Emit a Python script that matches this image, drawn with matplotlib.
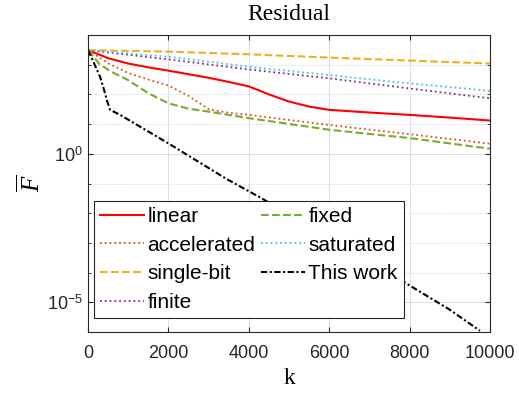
import matplotlib.pyplot as plt
import numpy as np

'''
    DATA (log10 of residual, read off the reference)
'''
k_linear = [0, 500, 1000, 1500, 2000, 3000, 3500, 4000, 4500, 5000, 5500, 6000, 7000, 8000, 9000, 10000]
log_linear = [3.49, 3.22, 3.04, 2.91, 2.80, 2.56, 2.42, 2.27, 2.00, 1.76, 1.59, 1.48, 1.39, 1.31, 1.22, 1.12]

k_accel = [0, 500, 1000, 1500, 2000, 2500, 3000, 3500, 4000, 6000, 8000, 10000]
log_accel = [3.49, 3.05, 2.72, 2.50, 2.30, 1.95, 1.50, 1.38, 1.31, 0.97, 0.66, 0.34]

k_single = [0, 2000, 4000, 6000, 8000, 10000]
log_single = [3.49, 3.44, 3.35, 3.24, 3.14, 3.04]

k_finite = [0, 2000, 4000, 6000, 8000, 10000]
log_finite = [3.49, 3.18, 2.84, 2.54, 2.20, 1.87]

k_fixed = [0, 300, 600, 1000, 1500, 2000, 2500, 3000, 4000, 6000, 8000, 10000]
log_fixed = [3.49, 3.00, 2.75, 2.48, 2.04, 1.70, 1.52, 1.42, 1.20, 0.81, 0.53, 0.17]

k_sat = [0, 2000, 4000, 6000, 8000, 10000]
log_sat = [3.49, 3.27, 2.93, 2.65, 2.37, 2.12]

k_ours = [0, 150, 300, 400, 470, 550, 800, 2000, 3450, 4320, 6000, 7886, 9000, 9750]
log_ours = [3.49, 3.05, 2.59, 2.15, 1.80, 1.48, 1.31, 0.35, -0.85, -1.50, -2.84, -4.34, -5.25, -5.96]

plt.rcParams['font.family'] = ['Liberation Sans', 'DejaVu Sans']
plt.rcParams['mathtext.fontset'] = 'custom'
plt.rcParams['mathtext.rm'] = 'Liberation Sans'
plt.rcParams['mathtext.it'] = 'Liberation Serif:italic'

fig = plt.figure(figsize=(5.19, 3.96), dpi=100)
ax = fig.add_axes([0.1696, 0.1616, 0.7746, 0.75])

series = [
    (k_linear, log_linear, 'linear', dict(color=(1, 0, 0), ls='-', lw=1.5)),
    (k_accel, log_accel, 'accelerated', dict(color=(0.85, 0.325, 0.098), ls=':', lw=1.3)),
    (k_single, log_single, 'single-bit', dict(color=(0.929, 0.694, 0.125), ls='--', lw=1.5)),
    (k_finite, log_finite, 'finite', dict(color=(0.494, 0.184, 0.556), ls=':', lw=1.3)),
    (k_fixed, log_fixed, 'fixed', dict(color=(0.466, 0.674, 0.188), ls='--', lw=1.5)),
    (k_sat, log_sat, 'saturated', dict(color=(0.301, 0.745, 0.933), ls=':', lw=1.3)),
    (k_ours, log_ours, 'This work', dict(color='black', ls=(0, (3, 1.2, 1, 1.2)), lw=1.5)),
]
for k, lg, name, style in series:
    ax.semilogy(k, 10.0 ** np.array(lg), label=name, **style)

ax.set_xlim(0, 10000)
ax.set_ylim(1e-6, 1e4)
ax.set_xticks([0, 2000, 4000, 6000, 8000, 10000])
ax.set_yticks([1e-5, 1e0])
ax.set_yticklabels(['$10^{-5}$', '$10^{0}$'])
ax.set_yticks([10.0 ** e for e in range(-6, 5)], minor=True)
ax.yaxis.set_minor_formatter(plt.NullFormatter())
ax.tick_params(which='both', direction='in', top=True, right=True, labelsize=13, colors='#262626')
ax.tick_params(axis='x', pad=9)
ax.tick_params(which='minor', length=2)
ax.grid(True, which='major', color='#dcdcdc', lw=0.7)
ax.grid(True, which='minor', axis='y', color='#cfcfcf', ls=':', lw=0.7)
for s in ax.spines.values():
    s.set_color('#262626')
    s.set_linewidth(0.8)

ax.set_title('Residual', family='Liberation Serif', fontsize=17, pad=11)
ax.set_xlabel('k', family='Liberation Serif', fontsize=17, labelpad=5)
ax.set_ylabel(r'$\overline{F}$', fontsize=18, labelpad=2)

leg = ax.legend(ncol=2, loc='lower left', bbox_to_anchor=(0.01, 0.04), fontsize=15,
                handlelength=2.1, handletextpad=0.15, columnspacing=0.3, labelspacing=0.46,
                borderpad=0.3, borderaxespad=0.1, fancybox=False, framealpha=1,
                edgecolor='#262626')
leg.get_frame().set_linewidth(0.8)

fig.savefig('out.png', dpi=100)
